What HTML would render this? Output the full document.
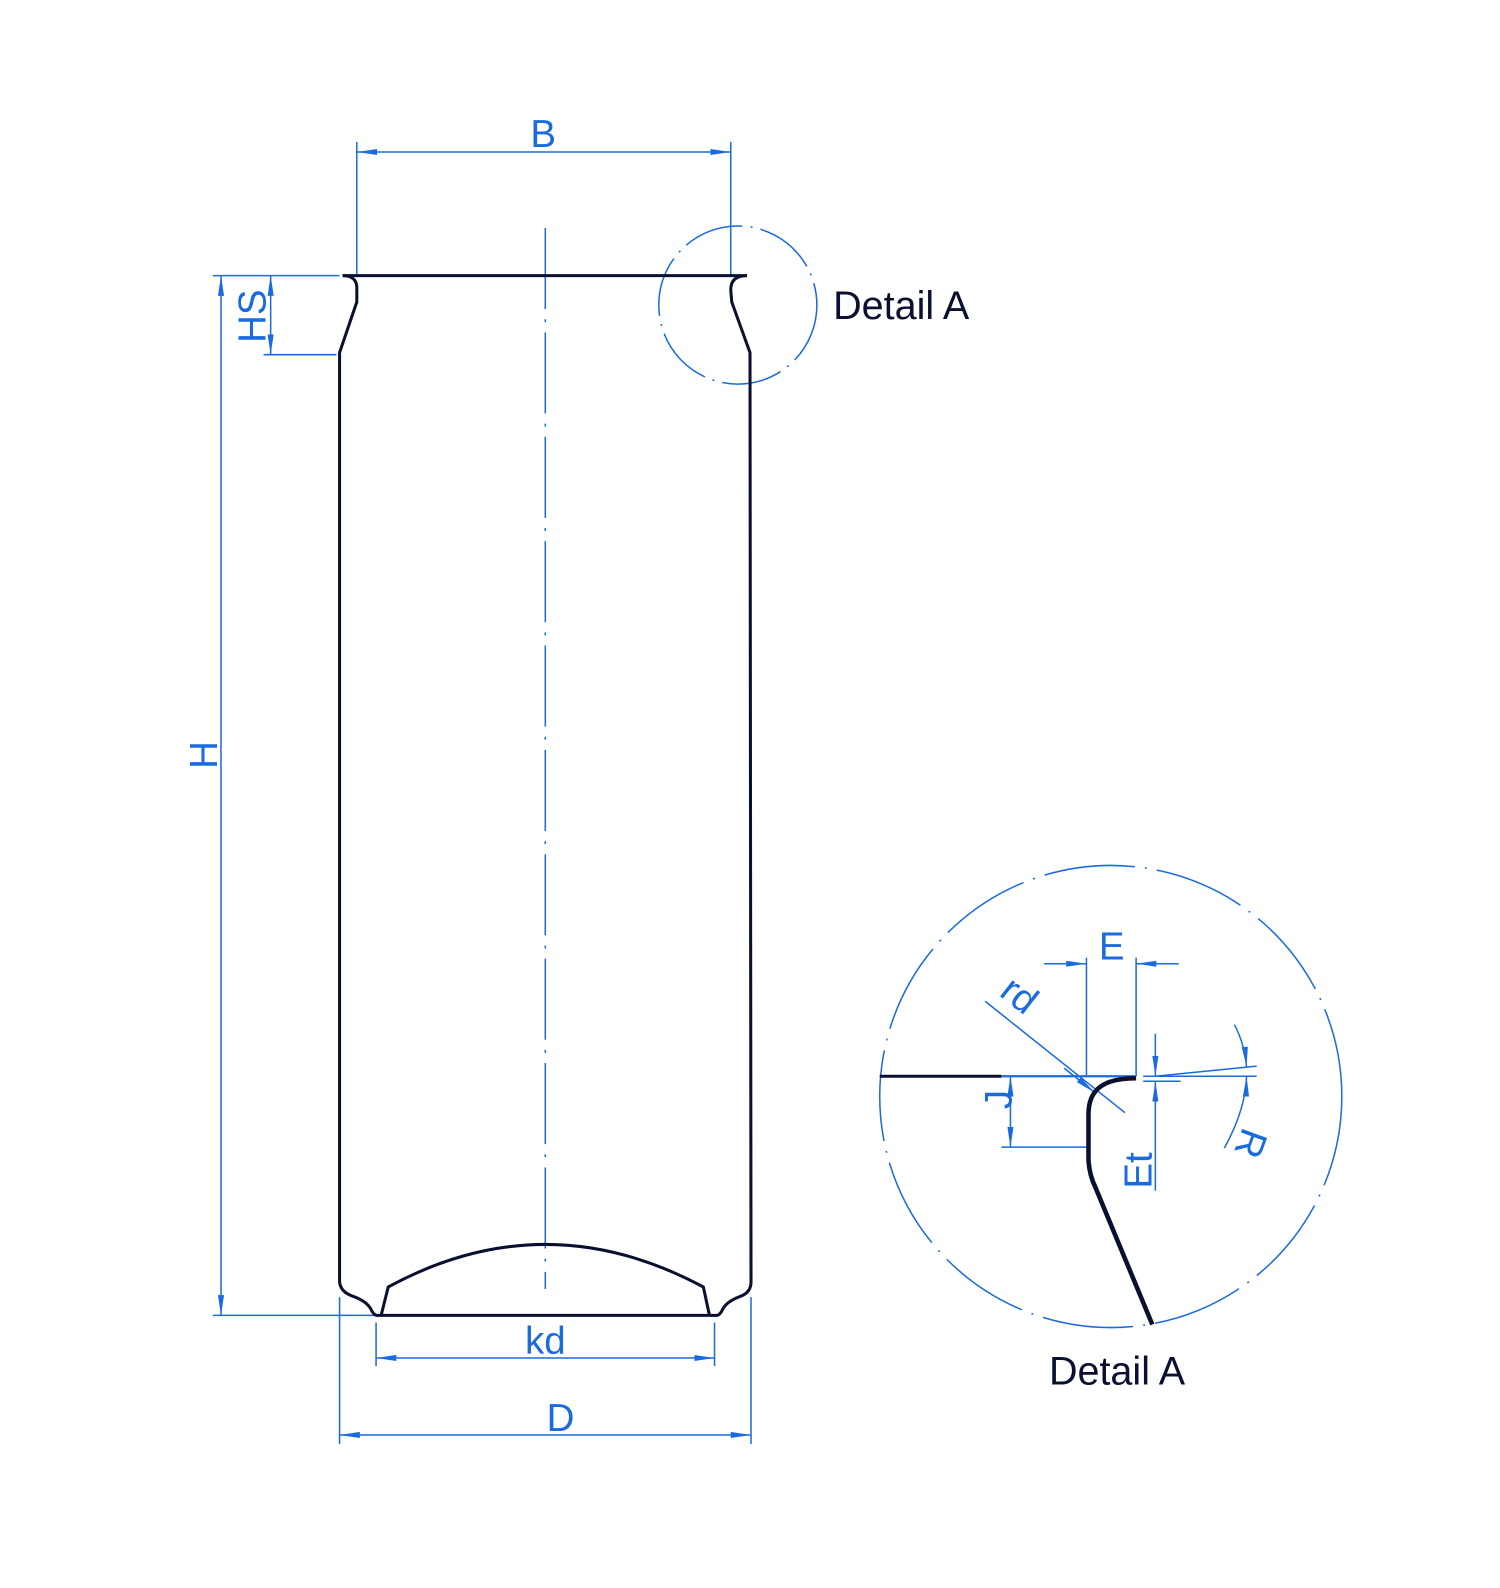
<!DOCTYPE html>
<html><head><meta charset="utf-8"><style>html,body{margin:0;padding:0;background:#fff}svg{display:block}</style></head>
<body>
<svg width="1500" height="1588" viewBox="0 0 1480 1567" xmlns="http://www.w3.org/2000/svg" font-family="Liberation Sans, sans-serif">
<defs>
<marker id="a" viewBox="0 0 20 8" refX="20" refY="4" markerWidth="20" markerHeight="8" markerUnits="userSpaceOnUse" orient="auto-start-reverse"><path d="M0,1 L20,4 L0,7 Z" fill="#1a6be0"/></marker>
</defs>
<g stroke="#1a6be0" stroke-width="1.5" fill="none">
<line x1="352" y1="140" x2="352" y2="272"/><line x1="721" y1="140" x2="721" y2="272"/>
<line x1="352" y1="150" x2="721" y2="150" marker-start="url(#a)" marker-end="url(#a)"/>
<line x1="538" y1="225" x2="538" y2="1272" stroke-dasharray="80,10,3,10"/>
<circle cx="728" cy="301" r="78" stroke-dasharray="60,8,2,8"/>
<line x1="210" y1="272" x2="335" y2="272"/><line x1="210" y1="1298" x2="370" y2="1298"/>
<line x1="218" y1="272" x2="218" y2="1298" marker-start="url(#a)" marker-end="url(#a)"/>
<line x1="260" y1="350" x2="332" y2="350"/>
<line x1="267" y1="272" x2="267" y2="350" marker-start="url(#a)" marker-end="url(#a)"/>
<line x1="371" y1="1305" x2="371" y2="1348"/><line x1="705" y1="1305" x2="705" y2="1348"/>
<line x1="371" y1="1340" x2="705" y2="1340" marker-start="url(#a)" marker-end="url(#a)"/>
<line x1="335" y1="1280" x2="335" y2="1425"/><line x1="741" y1="1280" x2="741" y2="1425"/>
<line x1="335" y1="1416" x2="741" y2="1416" marker-start="url(#a)" marker-end="url(#a)"/>
<circle cx="1096" cy="1082" r="228" stroke-dasharray="90,10,2,10"/>
<line x1="988" y1="1062" x2="1120" y2="1062" stroke-width="2.2"/>
<line x1="1072" y1="945" x2="1072" y2="1062"/><line x1="1121" y1="945" x2="1121" y2="1062"/>
<line x1="1030" y1="951" x2="1072" y2="951" marker-end="url(#a)"/>
<line x1="1163" y1="951" x2="1121" y2="951" marker-end="url(#a)"/>
<line x1="972" y1="988" x2="1110" y2="1098"/>
<line x1="1050" y1="1054" x2="1080" y2="1078" marker-end="url(#a)"/>
<line x1="988" y1="1132" x2="1072" y2="1132"/>
<line x1="997" y1="1062" x2="997" y2="1132" marker-start="url(#a)" marker-end="url(#a)"/>
<line x1="1128" y1="1062" x2="1165" y2="1062"/><line x1="1128" y1="1067" x2="1165" y2="1067"/>
<line x1="1140" y1="1020" x2="1140" y2="1062" marker-end="url(#a)"/>
<line x1="1140" y1="1175" x2="1140" y2="1067" marker-end="url(#a)"/>
<line x1="1140" y1="1062" x2="1240" y2="1062"/>
<line x1="1140" y1="1062" x2="1240" y2="1052"/>
<path d="M1218,1011 Q1228,1030 1230,1053" marker-end="url(#a)"/>
<path d="M1208,1133 Q1229,1095 1230,1062" marker-end="url(#a)"/>
</g>
<g stroke="#0a1030" stroke-width="3" fill="none" stroke-linejoin="round">
<line x1="338" y1="272" x2="737" y2="272"/>
<path d="M338,272 Q353,272 352,286 L352,298 L335,348 L335,1265 Q336,1275 348,1279 Q362,1284 366,1292 Q369,1299 374,1298 L705,1298 Q710,1299 713,1292 Q717,1284 731,1279 Q741,1275 741,1265 L740,348 L722,298 L721,286 Q721,272 737,272"/>
<path d="M376,1298 L383,1270 Q460,1228 538,1228 Q616,1228 694,1270 L700,1298"/>
<path d="M868,1062 L988,1062"/>
<path d="M1121,1064 Q1090,1064 1080,1078 Q1074,1086 1074,1100 L1074,1145 Q1075,1160 1081,1172 L1137,1307" stroke-width="4.5"/>
</g>
<g fill="#1a6be0" font-size="38" text-anchor="middle">
<text x="536" y="145">B</text>
<text x="538" y="1336">kd</text>
<text x="553" y="1412">D</text>
<text x="1097" y="947">E</text>
<text transform="translate(214,745) rotate(-90)">H</text>
<text transform="translate(262,312) rotate(-90)">HS</text>
<text transform="translate(998,992) rotate(38)">rd</text>
<text transform="translate(998,1085) rotate(-90)">J</text>
<text transform="translate(1136,1155) rotate(-90)">Et</text>
<text transform="translate(1222,1124) rotate(110)">R</text>
</g>
<g fill="#0a1030" font-size="39">
<text x="822" y="315">Detail A</text>
<text x="1035" y="1366">Detail A</text>
</g>
</svg>
</body></html>
